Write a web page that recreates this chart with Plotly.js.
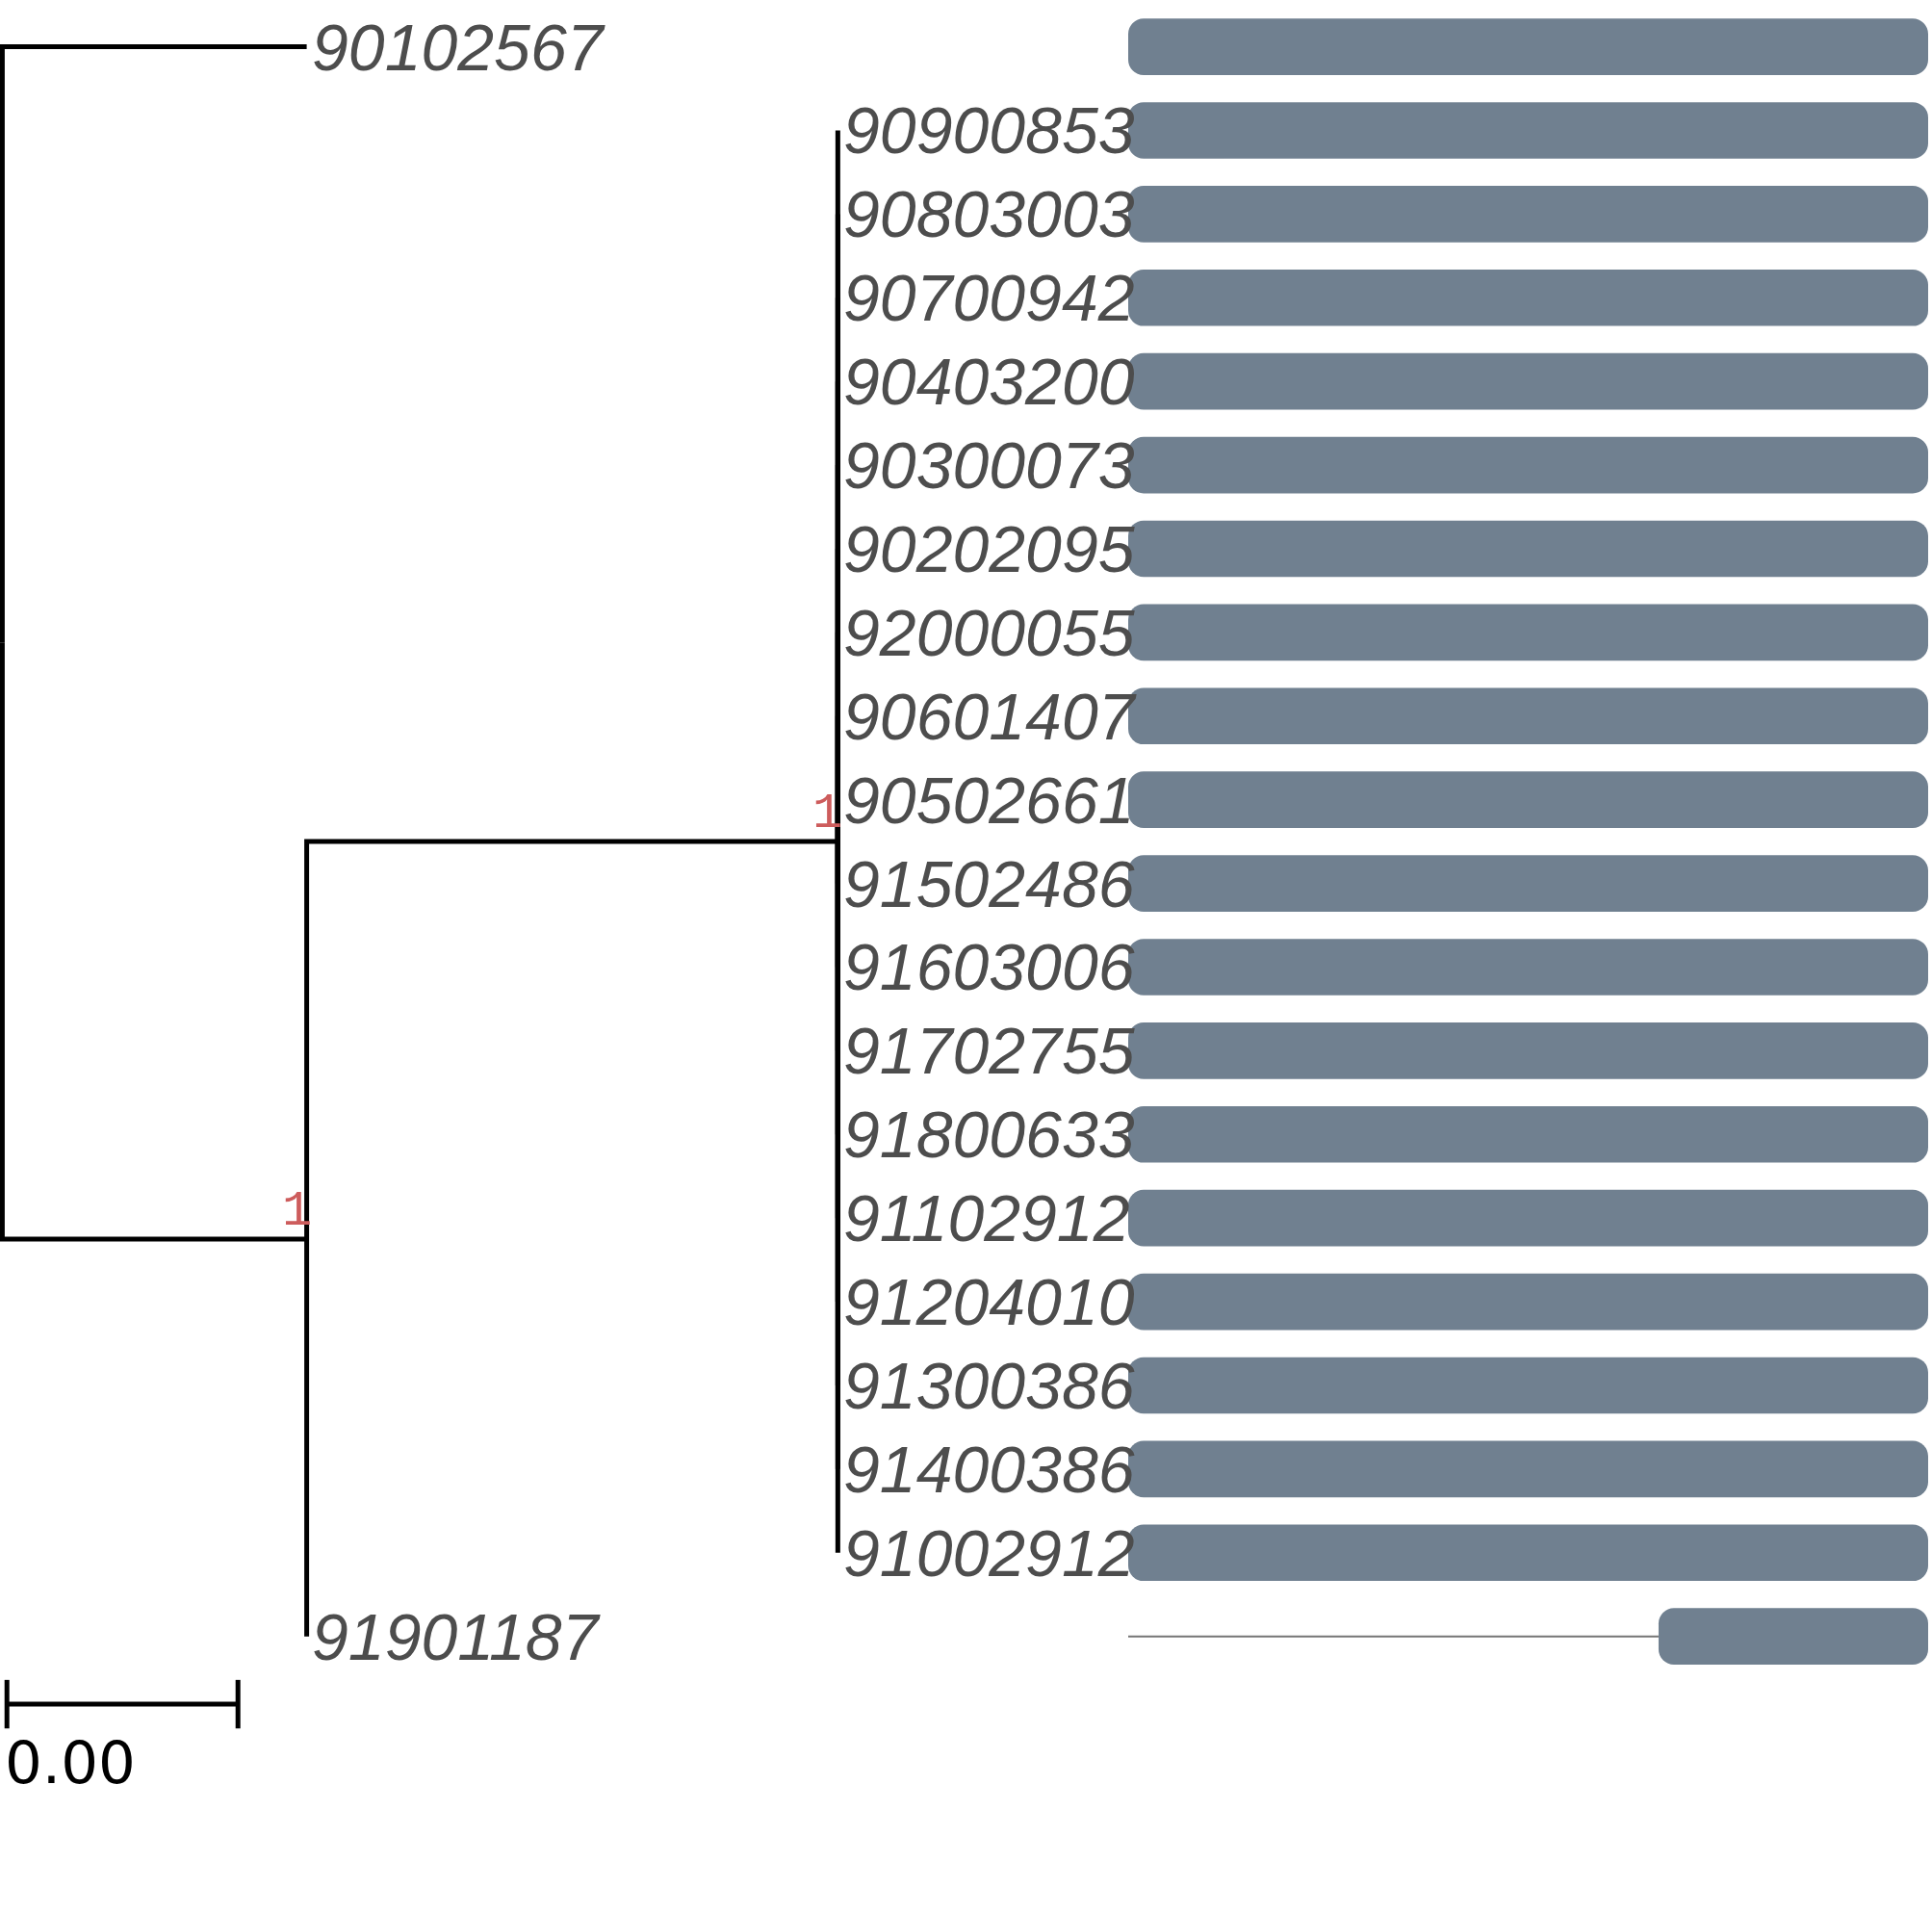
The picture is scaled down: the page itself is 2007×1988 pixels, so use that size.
<!DOCTYPE html>
<html><head><meta charset="utf-8">
<script src="https://cdn.plot.ly/plotly-3.0.1.min.js"></script>
<style>html,body{margin:0;padding:0;background:#fff}</style>
</head><body><div id="chart" style="width:2007px;height:1988px"></div>
<script>
// ---- tree data ----
const tipLabels = ['90102567','90900853','90803003','90700942','90403200','90300073','90202095','92000055','90601407','90502661','91502486','91603006','91702755','91800633','91102912','91204010','91300386','91400386','91002912','91901187'];
const tipParent = ['root','B','B','B','B','B','B','B','B','B','B','B','B','B','B','B','B','B','B','A'];
const tipBranch = [0.002635,0,0,0,0,0,0,0,0,0,0,0,0,0,0,0,0,0,0,0];
const nodeIds = ['root','A','B'];
const nodeParent = [null,'root','A'];
const nodeBranch = [0,0.002635,0.004598];
const nodeSupport = ['','1','1'];
const scaleBarWidth = 0.002;
// ---- segment (bar) data ----
const seqLength = [1000,1000,1000,1000,1000,1000,1000,1000,1000,1000,1000,1000,1000,1000,1000,1000,1000,1000,1000,1000];
const segStart = [0,0,0,0,0,0,0,0,0,0,0,0,0,0,0,0,0,0,0,663];
const segEnd = [1000,1000,1000,1000,1000,1000,1000,1000,1000,1000,1000,1000,1000,1000,1000,1000,1000,1000,1000,1000];

// ---- compute tree coordinates ----
const nodeX = {}, nodeY = {};
nodeIds.forEach((id,i)=>{
  const p = nodeParent[i];
  nodeX[id] = (p===null ? 0 : nodeX[p]) + nodeBranch[i];
});
const tipX = tipLabels.map((_,i)=>nodeX[tipParent[i]] + tipBranch[i]);
const tipY = tipLabels.map((_,i)=>i);
function childYs(id){
  const ys = [];
  tipParent.forEach((p,i)=>{ if(p===id) ys.push(tipY[i]); });
  nodeParent.forEach((p,i)=>{ if(p===id) ys.push(getNodeY(nodeIds[i])); });
  return ys;
}
function getNodeY(id){
  if(nodeY[id]!==undefined) return nodeY[id];
  const ys = childYs(id);
  nodeY[id] = ys.reduce((a,b)=>a+b,0)/ys.length;
  return nodeY[id];
}
nodeIds.forEach(getNodeY);

const lx = [], ly = [];
function addEdge(px,py,cx,cy){
  lx.push(px,px,cx,null); ly.push(py,cy,cy,null);
}
tipLabels.forEach((_,i)=>{
  const p = tipParent[i];
  addEdge(nodeX[p], nodeY[p], tipX[i], tipY[i]);
});
nodeIds.forEach((id,i)=>{
  const p = nodeParent[i];
  if(p!==null) addEdge(nodeX[p], nodeY[p], nodeX[id], nodeY[id]);
});

const traces = [];
traces.push({type:'scatter', mode:'lines', x:lx, y:ly, xaxis:'x', yaxis:'y',
  line:{color:'#000000', width:5}, hoverinfo:'skip'});

// scale bar
const sbX0 = 0.00004, sbY = 19.81, sbTick = 0.29;
traces.push({type:'scatter', mode:'lines', xaxis:'x', yaxis:'y', hoverinfo:'skip',
  x:[sbX0, sbX0+scaleBarWidth, null, sbX0, sbX0, null, sbX0+scaleBarWidth, sbX0+scaleBarWidth],
  y:[sbY, sbY, null, sbY-sbTick, sbY+sbTick, null, sbY-sbTick, sbY+sbTick],
  line:{color:'#000000', width:5}});

// segments: thin background line where not covered
const gx = [], gy = [];
tipLabels.forEach((_,i)=>{
  if(segStart[i] > 0){ gx.push(0, segStart[i], null); gy.push(i,i,null); }
  if(segEnd[i] < seqLength[i]){ gx.push(segEnd[i], seqLength[i], null); gy.push(i,i,null); }
});
traces.push({type:'scatter', mode:'lines', x:gx, y:gy, xaxis:'x2', yaxis:'y',
  line:{color:'#757575', width:2}, hoverinfo:'skip'});

traces.push({type:'bar', orientation:'h', xaxis:'x2', yaxis:'y', y:tipY, base:segStart,
  x:segEnd.map((e,i)=>e-segStart[i]), width:0.675,
  marker:{color:'#708090', line:{width:0}, cornerradius:16}, hoverinfo:'skip'});

const annotations = [];
tipLabels.forEach((t,i)=>{
  annotations.push({x:tipX[i], y:tipY[i], xref:'x', yref:'y', text:t, showarrow:false,
    xanchor:'left', yanchor:'middle', xshift:3.5,
    font:{family:'Liberation Sans, Arial, sans-serif', size:68, color:'#4D4D4D', style:'italic'}});
});
nodeIds.forEach((id,i)=>{
  if(nodeSupport[i]) annotations.push({x:nodeX[id], y:nodeY[id], xref:'x', yref:'y', text:nodeSupport[i],
    showarrow:false, xanchor:'right', yanchor:'bottom', xshift:7, yshift:-3,
    font:{family:'Liberation Mono, monospace', size:52, color:'#CD5C5C'}});
});
annotations.push({x:sbX0, y:20.5, xref:'x', yref:'y', text:scaleBarWidth.toFixed(2), showarrow:false,
  xanchor:'left', yanchor:'middle', xshift:-4,
  font:{family:'DejaVu Sans, sans-serif', size:61, color:'#000000'}});

const hid = {visible:false, showgrid:false, zeroline:false, showticklabels:false, fixedrange:true};
const layout = {
  width:2007, height:1988, margin:{l:0,r:0,t:0,b:0,pad:0},
  paper_bgcolor:'#ffffff', plot_bgcolor:'rgba(0,0,0,0)',
  showlegend:false, barmode:'overlay',
  xaxis:Object.assign({}, hid, {domain:[0,1], range:[-0.00002, 0.016705]}),
  xaxis2:Object.assign({}, hid, {domain:[1172/2007, 2003/2007], range:[0,1000], anchor:'y'}),
  yaxis:Object.assign({}, hid, {domain:[0,1], range:[22.318, -0.559]}),
  annotations:annotations
};
Plotly.newPlot('chart', traces, layout, {staticPlot:true, displayModeBar:false});
</script></body></html>
